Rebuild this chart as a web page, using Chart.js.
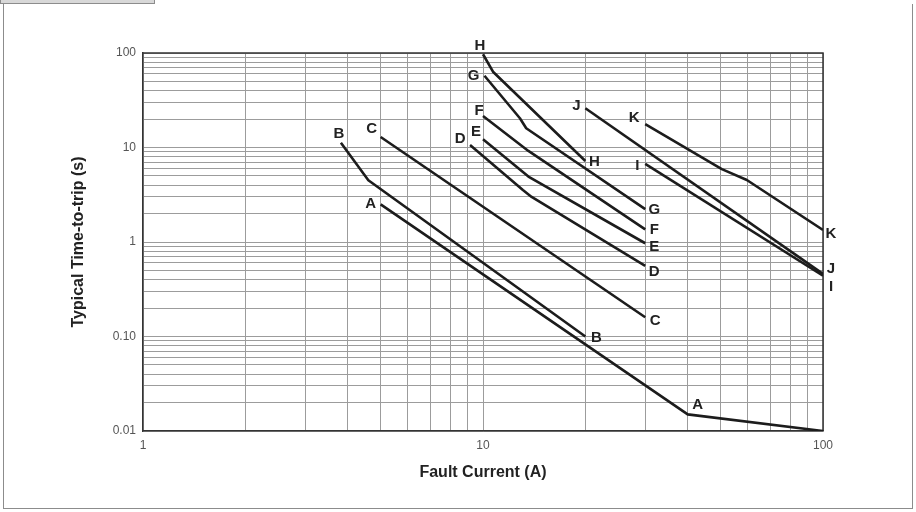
<!DOCTYPE html>
<html>
<head>
<meta charset="utf-8">
<title>Typical Time-to-trip</title>
<script src="https://cdn.jsdelivr.net/npm/chart.js@4.4.1/dist/chart.umd.min.js"></script>
<style>
  html, body { margin: 0; padding: 0; background: #fff; }
  #wrap { position: relative; width: 916px; height: 512px; overflow: hidden; }
  #tab { position: absolute; left: 0; top: 0; width: 153px; height: 3px; background: #d8d8d8; border: 1px solid #8c8c8c; border-top: 0; }
  #frame { position: absolute; left: 3px; top: 4px; right: 3px; bottom: 3px; border: 1px solid #8c8c8c; border-top: 0; }
  canvas { position: absolute; left: 0; top: 0; }
</style>
</head>
<body>
<div id="wrap">
  <div id="frame"></div>
  <div id="tab"></div>
  <canvas id="tripChart" width="916" height="512"></canvas>
</div>
<script>
// curves: [fault current (A), time-to-trip (s)]
const curveA = [[5, 2.5], [40, 0.015], [100, 0.01]];
const curveB = [[3.82, 11.2], [4.6, 4.5], [20, 0.1]];
const curveC = [[5, 12.9], [30, 0.16]];
const curveD = [[9.16, 10.6], [13.1, 3.55], [13.9, 3.0], [30, 0.56]];
const curveE = [[10, 12.2], [13.6, 4.93], [30, 0.97]];
const curveF = [[10, 21.5], [13.6, 9.2], [30, 1.36]];
const curveG = [[10.1, 57.5], [12.84, 20.4], [13.4, 16.0], [30, 2.23]];
const curveH = [[10, 97], [10.7, 63.4], [20, 7.2]];
const curveI = [[30, 6.7], [100, 0.44]];
const curveJ = [[20, 26], [100, 0.46]];
const curveK = [[30, 17.7], [50.4, 5.9], [59.7, 4.53], [100, 1.34]];

const xTickValues = [1, 2, 3, 4, 5, 6, 7, 8, 9, 10, 20, 30, 40, 50, 60, 70, 80, 90, 100];
const yTickValues = [0.01, 0.02, 0.03, 0.04, 0.05, 0.06, 0.07, 0.08, 0.09,
                     0.1, 0.2, 0.3, 0.4, 0.5, 0.6, 0.7, 0.8, 0.9,
                     1, 2, 3, 4, 5, 6, 7, 8, 9,
                     10, 20, 30, 40, 50, 60, 70, 80, 90, 100];
const xMajor = [1, 10, 100];
const xTickLabels = ['1', '10', '100'];
const yMajor = [0.01, 0.1, 1, 10, 100];
const yTickLabels = ['0.01', '0.10', '1', '10', '100'];

const FONT = '"Liberation Sans", Arial, Helvetica, sans-serif';

// letter tags: which point, and offset of the letter from it
const tagStyle = {
  A: [{ at: 0, dx: -10, dy: -2 }, { at: 1, dx: 10, dy: -11 }],
  B: [{ at: 0, dx: -2, dy: -10 }, { at: -1, dx: 11, dy: 0 }],
  C: [{ at: 0, dx: -9, dy: -9 }, { at: -1, dx: 10, dy: 3 }],
  D: [{ at: 0, dx: -10, dy: -7 }, { at: -1, dx: 9, dy: 5 }],
  E: [{ at: 0, dx: -7, dy: -8 }, { at: -1, dx: 9, dy: 3 }],
  F: [{ at: 0, dx: -4, dy: -6 }, { at: -1, dx: 9, dy: -1 }],
  G: [{ at: 0, dx: -11, dy: -1 }, { at: -1, dx: 9, dy: 0 }],
  H: [{ at: 0, dx: -3, dy: -9 }, { at: -1, dx: 9, dy: 0 }],
  I: [{ at: 0, dx: -8, dy: 1 }, { at: -1, dx: 8, dy: 10 }],
  J: [{ at: 0, dx: -9, dy: -3 }, { at: -1, dx: 8, dy: -6 }],
  K: [{ at: 0, dx: -11, dy: -7 }, { at: -1, dx: 8, dy: 3 }]
};

const curves = { A: curveA, B: curveB, C: curveC, D: curveD, E: curveE, F: curveF,
                 G: curveG, H: curveH, I: curveI, J: curveJ, K: curveK };

const datasets = Object.keys(curves).map(name => ({
  label: name,
  data: curves[name].map(([x, y]) => ({ x, y })),
  borderColor: '#1c1c1c',
  borderWidth: 2.6,
  borderJoinStyle: 'round',
  pointRadius: 0,
  tension: 0,
  fill: false
}));

const curveTags = {
  id: 'curveTags',
  afterDatasetsDraw(chart) {
    const { ctx, scales: { x, y } } = chart;
    ctx.save();
    ctx.font = 'bold 15px ' + FONT;
    ctx.fillStyle = '#222';
    ctx.textAlign = 'center';
    ctx.textBaseline = 'middle';
    chart.data.datasets.forEach(ds => {
      tagStyle[ds.label].forEach(tag => {
        const p = ds.data[tag.at < 0 ? ds.data.length + tag.at : tag.at];
        ctx.fillText(ds.label, x.getPixelForValue(p.x) + tag.dx, y.getPixelForValue(p.y) + tag.dy + 1);
      });
    });
    ctx.restore();
  }
};

// dark top/right edges of the plot box
const plotFrame = {
  id: 'plotFrame',
  beforeDatasetsDraw(chart) {
    const { ctx, chartArea: a } = chart;
    ctx.save();
    ctx.strokeStyle = '#333';
    ctx.lineWidth = 1.5;
    ctx.beginPath();
    ctx.moveTo(a.left, a.top);
    ctx.lineTo(a.right, a.top);
    ctx.lineTo(a.right, a.bottom);
    ctx.stroke();
    ctx.restore();
  }
};

new Chart(document.getElementById('tripChart'), {
  type: 'line',
  data: { datasets },
  plugins: [plotFrame, curveTags],
  options: {
    responsive: false,
    animation: false,
    layout: { padding: { top: 53, right: 93, bottom: 0, left: 0 } },
    plugins: { legend: { display: false }, tooltip: { enabled: false } },
    scales: {
      x: {
        type: 'logarithmic',
        min: 1,
        max: 100,
        afterBuildTicks: s => { s.ticks = xTickValues.map(v => ({ value: v, major: xMajor.includes(v) })); },
        afterFit: s => { s.height = 81; },
        grid: { color: '#9c9c9c', lineWidth: 1, drawTicks: false },
        border: { color: '#333', width: 1.5 },
        ticks: {
          autoSkip: false,
          maxRotation: 0,
          padding: 7,
          color: '#555',
          font: { family: FONT, size: 12 },
          callback: v => { const i = xMajor.indexOf(v); return i < 0 ? '' : xTickLabels[i]; }
        },
        title: {
          display: true,
          text: 'Fault Current (A)',
          color: '#222',
          font: { family: FONT, size: 16, weight: 'bold' },
          padding: { top: 0, bottom: 30 }
        }
      },
      y: {
        type: 'logarithmic',
        min: 0.01,
        max: 100,
        afterBuildTicks: s => { s.ticks = yTickValues.map(v => ({ value: v, major: yMajor.includes(v) })); },
        afterFit: s => { s.width = 143; },
        grid: { color: '#9c9c9c', lineWidth: 1, drawTicks: false },
        border: { color: '#333', width: 1.5 },
        ticks: {
          autoSkip: false,
          padding: 7,
          color: '#555',
          font: { family: FONT, size: 12 },
          callback: v => { const i = yMajor.indexOf(v); return i < 0 ? '' : yTickLabels[i]; }
        },
        title: {
          display: true,
          text: 'Typical Time-to-trip (s)',
          color: '#222',
          font: { family: FONT, size: 16, weight: 'bold' },
          padding: { top: 69, bottom: 0 }
        }
      }
    }
  }
});
</script>
</body>
</html>
